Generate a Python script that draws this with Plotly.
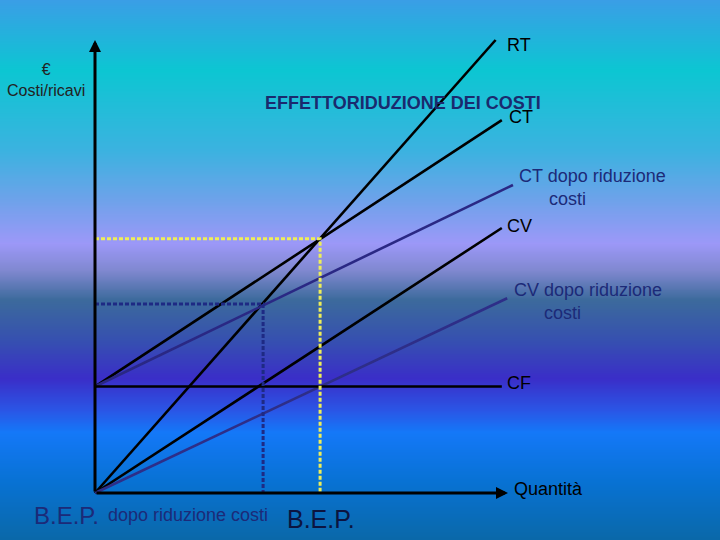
import numpy as np
import plotly.graph_objects as go

# ---- data (arbitrary units: quantity on x, euro on y) ----
q_end = [97.0, 98.5, 101.2, 98.5, 99.8, 98.5]
series_names = ["RT", "CT", "CT dopo riduzione costi", "CV", "CV dopo riduzione costi", "CF"]
start_vals = [0.0, 23.5, 23.5, 0.0, 0.0, 23.5]
end_vals = [100.0, 82.3, 68.0, 58.5, 43.0, 23.5]
bep_q = [54.5, 40.7]          # B.E.P., B.E.P. dopo riduzione costi
bep_val = [56.1, 41.7]
axis_max = [100.0, 100.0]     # x, y

# ---- pixel mapping helpers ----
W, H = 720, 540
X0PX, Y0PX = 95.0, 493.0
SX, SY = 4.13, 4.53
xr = [(0 - X0PX) / SX, (W - X0PX) / SX]
yr = [(Y0PX - H) / SY, (Y0PX - 0) / SY]

fig = go.Figure()

# background gradient
py = np.linspace(0, H, 200)
stops = [
    (0.00, "#3a9ee6"), (0.13, "#0cc6d2"), (0.28, "#3cb2e0"), (0.37, "#6ea2ea"),
    (0.45, "#9c98f8"), (0.50, "#8088d0"), (0.555, "#3c6a9c"), (0.63, "#3650b0"),
    (0.70, "#3a2ec8"), (0.76, "#2a56e6"), (0.80, "#1478f8"), (0.89, "#0872d4"),
    (1.00, "#0a68a8"),
]
fig.add_trace(go.Heatmap(
    x=[xr[0] - 5, xr[1] + 5], y=(Y0PX - py) / SY,
    z=[[v / H, v / H] for v in py], zmin=0, zmax=1,
    colorscale=[[s, c] for s, c in stops], showscale=False, zsmooth="best",
    hoverinfo="skip",
))

colors = ["black", "black", "#2a2884", "black", "#2e2e88", "black"]
for name, qe, s, e, c in zip(series_names, q_end, start_vals, end_vals, colors):
    fig.add_trace(go.Scatter(x=[0, qe], y=[s, e], mode="lines",
                             line=dict(color=c, width=2.6), name=name, showlegend=False))

# BEP dashed guides
dash_cols = ["#eeee58", "#1e2a84"]
for bq, bv, c in zip(bep_q, bep_val, dash_cols):
    fig.add_trace(go.Scatter(x=[0, bq, bq], y=[bv, bv, 0], mode="lines",
                             line=dict(color=c, width=3, dash="4px,2px"), showlegend=False))

# axes with arrows
fig.add_annotation(x=0, y=axis_max[1], ax=0, ay=0, axref="x", ayref="y", xref="x", yref="y",
                   showarrow=True, arrowhead=2, arrowsize=0.8, arrowwidth=3, arrowcolor="black", text="")
fig.add_annotation(x=axis_max[0], y=0, ax=0, ay=0, axref="x", ayref="y", xref="x", yref="y",
                   showarrow=True, arrowhead=2, arrowsize=0.8, arrowwidth=3, arrowcolor="black", text="")

FONT = "Arial, Liberation Sans, sans-serif"
def label(px, pyy, text, size, color, xanchor="left", align="left"):
    fig.add_annotation(x=px / W, y=1 - pyy / H, xref="paper", yref="paper", text=text,
                       showarrow=False, xanchor=xanchor, yanchor="middle", align=align,
                       font=dict(family=FONT, size=size, color=color))

label(505, 45, "RT", 18, "black")
label(507, 117, "CT", 18, "black")
label(403, 103, "<b>EFFETTORIDUZIONE DEI COSTI</b>", 18, "#1a2a6e", xanchor="center")
label(517, 187, "CT dopo riduzione<br>      costi", 18, "#1c2a78")
label(505, 226, "CV", 18, "black")
label(512, 301, "CV dopo riduzione<br>      costi", 18, "#1c2a78")
label(505, 383, "CF", 18, "black")
label(512, 489, "Quantità", 18, "black")
label(46, 80, "€<br>Costi/ricavi", 16, "#222222", xanchor="center", align="center")
label(32, 515, "B.E.P.", 24, "#1c2a78")
label(106, 515, "dopo riduzione costi", 18, "#1c2a78")
label(285, 519, "B.E.P.", 25, "#0c1440")

fig.update_xaxes(range=xr, visible=False, showgrid=False, zeroline=False)
fig.update_yaxes(range=yr, visible=False, showgrid=False, zeroline=False)
fig.update_layout(width=W, height=H, margin=dict(l=0, r=0, t=0, b=0),
                  paper_bgcolor="#1a8ad8", plot_bgcolor="rgba(0,0,0,0)", showlegend=False)
fig.write_html("out.html", config={"displayModeBar": False},
               post_script="document.body.style.margin='0';")
